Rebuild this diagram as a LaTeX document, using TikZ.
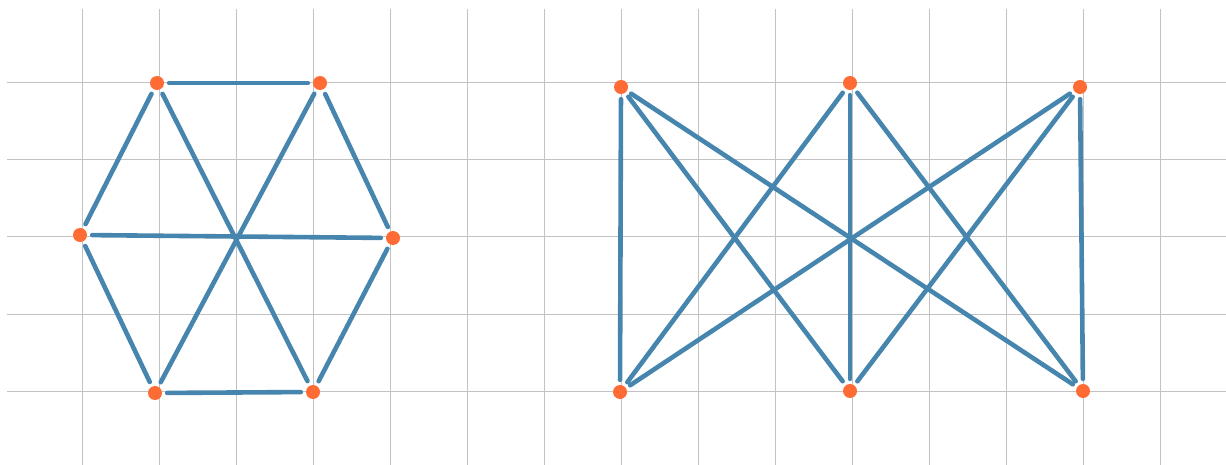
\documentclass[tikz,border=0pt]{standalone}
\begin{document}
\begin{tikzpicture}[x=1pt,y=-1pt,
  gridline/.style={draw=black!24,line width=1pt},
  vert/.style={circle,fill={rgb,255:red,255;green,107;blue,53},minimum size=14pt,inner sep=0pt},
  edge/.style={draw={rgb,255:red,70;green,134;blue,174},line width=4.6pt,line cap=round,shorten <=5pt,shorten >=5pt}]
\useasboundingbox (0,0) rectangle (1226,465);
\foreach \i in {0,...,14} {\draw[gridline] ({82+77*\i},9) -- ({82+77*\i},465);}
\foreach \j in {0,...,4} {\draw[gridline] (7,{83+77*\j}) -- (1226,{83+77*\j});}
% left hexagon
\node[vert] (a1) at (157,83) {};
\node[vert] (a2) at (320,83) {};
\node[vert] (a3) at (393,238) {};
\node[vert] (a4) at (313,392) {};
\node[vert] (a5) at (155,393) {};
\node[vert] (a6) at (80,235) {};
\draw[edge] (a1) -- (a2);
\draw[edge] (a2) -- (a3);
\draw[edge] (a3) -- (a4);
\draw[edge] (a4) -- (a5);
\draw[edge] (a5) -- (a6);
\draw[edge] (a6) -- (a1);
\draw[edge] (a1) -- (a4);
\draw[edge] (a2) -- (a5);
\draw[edge] (a6) -- (a3);
% right K33
\node[vert] (t1) at (621,87) {};
\node[vert] (t2) at (850,83) {};
\node[vert] (t3) at (1080,87) {};
\node[vert] (b1) at (620,392) {};
\node[vert] (b2) at (850,391) {};
\node[vert] (b3) at (1083,391) {};
\foreach \t in {t1,t2,t3} {\foreach \b in {b1,b2,b3} {\draw[edge] (\t) -- (\b);}}
\end{tikzpicture}
\end{document}
